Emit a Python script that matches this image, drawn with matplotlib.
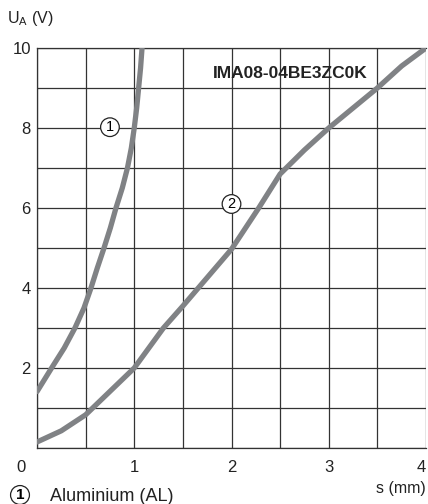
import matplotlib.pyplot as plt

plt.rcParams['font.family'] = ['Liberation Sans', 'DejaVu Sans']

# curve 1 (aluminium) and curve 2
s_1 = [0, 0.15, 0.28, 0.39, 0.483, 0.555, 0.62, 0.689, 0.754, 0.812, 0.877, 0.93, 0.97, 1.0, 1.025, 1.045, 1.065, 1.08]
u_1 = [1.41, 2, 2.5, 3, 3.5, 4, 4.5, 5, 5.5, 6, 6.5, 7, 7.5, 8, 8.5, 9, 9.5, 10]
s_2 = [0, 0.25, 0.5, 1.0, 1.3, 1.5, 2.0, 2.28, 2.5, 2.75, 3.0, 3.5, 3.75, 4.0]
u_2 = [0.15, 0.43, 0.83, 2.0, 3.0, 3.55, 4.97, 6.0, 6.85, 7.45, 8.0, 9.0, 9.55, 10.0]

x_labels = ['0', '1', '2', '3', '4']
y_labels = ['2', '4', '6', '8', '10']
sensor = 'IMA08-04BE3ZC0K'
legend_text = 'Aluminium (AL)'

W, H = 428, 504
fig = plt.figure(figsize=(W/100, H/100), dpi=100)
ax = fig.add_axes([37/W, 1-448/H, (426-37)/W, (448-48)/H])

line_col = '#808285'
ax.plot(s_1, u_1, color=line_col, lw=3.8, solid_capstyle='round', solid_joinstyle='round', zorder=3)
ax.plot(s_2, u_2, color=line_col, lw=3.8, solid_capstyle='round', solid_joinstyle='round', zorder=3)

ax.set_xlim(0, 4)
ax.set_ylim(0, 10)
ax.set_xticks([i*0.5 for i in range(9)])
ax.set_xticklabels(['' if (i % 2 or i == 0 or i == 8) else x_labels[i//2] for i in range(9)])
ax.set_yticks(range(11))
ax.set_yticklabels(['' if (i % 2 or i == 0) else y_labels[i//2 - 1] for i in range(11)])
ax.tick_params(length=0, labelsize=12, colors='#222222')
ax.tick_params(axis='x', pad=9)
ax.tick_params(axis='y', pad=4.5)
ax.grid(True, color='#333333', lw=0.9)
for sp in ax.spines.values():
    sp.set_color('#333333')
    sp.set_linewidth(0.9)
ax.spines['right'].set_visible(False)

# origin and last x label placed by hand (reference puts 0 left of the axis)
ax.text(-0.165, -0.48, x_labels[0], fontsize=12, color='#222222', ha='center', va='center', clip_on=False)
ax.text(3.95, -0.48, x_labels[4], fontsize=12, color='#222222', ha='center', va='center', clip_on=False)

circ = dict(boxstyle='circle,pad=0.16', fc='white', ec='#222222', lw=0.9)
ax.text(0.75, 8.02, '1', fontsize=10.5, ha='center', va='center', bbox=circ, zorder=4)
ax.text(2.0, 6.1, '2', fontsize=10.5, ha='center', va='center', bbox=circ, zorder=4)
ax.text(2.6, 9.37, sensor, fontsize=12.5, fontweight='bold', ha='center', va='center', color='#222222')

fig.text(7/W, 1-18/H, 'U$_\\mathregular{A}$ (V)', fontsize=11.5, ha='left', va='center', color='#222222')
fig.text(426/W, 1-489/H, 's (mm)', fontsize=11.5, ha='right', va='center', color='#222222')
fig.text(20/W, 1-495/H, '1', fontsize=11, fontweight='bold', ha='center', va='center', bbox=circ)
fig.text(50/W, 1-501/H, legend_text, fontsize=13, ha='left', va='baseline', color='#222222')

fig.savefig('out.png', dpi=100)
